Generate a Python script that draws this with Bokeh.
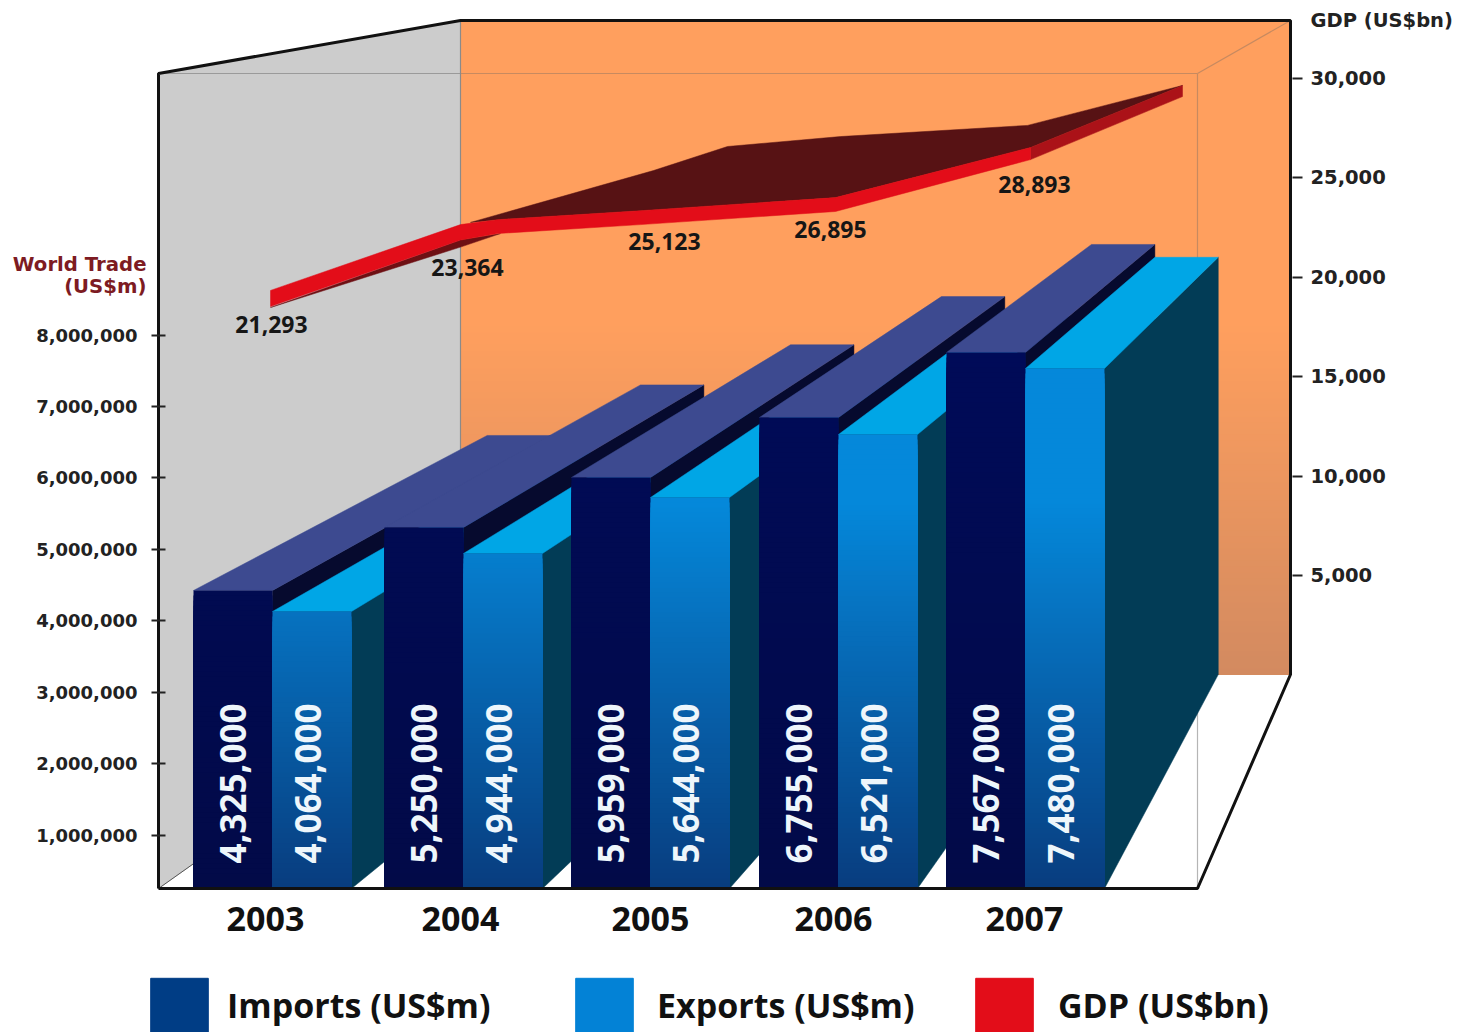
import math
from bokeh.plotting import figure
from bokeh.embed import file_html
from bokeh.layouts import column
from bokeh.resources import INLINE
from bokeh.core.properties import value
from bokeh.models import (Range1d, LinearAxis, FixedTicker, Legend, LegendItem,
                          ColumnDataSource, NumeralTickFormatter)

# ---------- data ----------
years = ["2003", "2004", "2005", "2006", "2007"]
imports_printed = [4325000, 5250000, 5959000, 6755000, 7567000]
exports_printed = [4064000, 4944000, 5644000, 6521000, 7480000]
# bar tops as they stand against the left axis in the picture
imports_drawn = [4424000, 5306000, 6006000, 6846000, 7756000]
exports_drawn = [4130000, 4942000, 5726000, 6608000, 7532000]
gdp_printed = [21293, 23364, 25123, 26895, 28893]
# GDP ribbon as read against the right axis
gdp_front_top = [19340, 22650, 22900, 23350, 24010, 26530]
gdp_front_bottom = [18530, 21870, 22200, 22650, 23310, 25920]
gdp_back = [22760, 25370, 26580, 27080, 27640, 29650]
gdp_end_bottom = 29090
trade_ticks = [1000000, 2000000, 3000000, 4000000, 5000000, 6000000, 7000000, 8000000]
gdp_ticks = [5000, 10000, 15000, 20000, 25000, 30000]
legend_labels = ["Imports (US$m)", "Exports (US$m)", "GDP (US$bn)"]

# ---------- layout (page pixels) ----------
W, H, H_MAIN = 1461, 1032, 950
LEFT, RIGHT, TOP, BOTTOM = 156, 1292, 0, 890
FLOOR = 888
def trade(py): return (906 - py) / 71.43 * 1e6
def gdp(py): return (674.4 - py) / 0.01988
VX, VY, S = 1680, trade(-195), 0.8025
def bx(x): return VX + S * (x - VX)
def by(v): return VY + S * (v - VY)

bar_w = 79
imp_left = [193, 384, 571, 759, 946]
year_x = [265, 460, 650, 833, 1024]

p = figure(width=W, height=H_MAIN, output_backend="svg", toolbar_location=None,
           x_range=Range1d(LEFT, RIGHT), y_range=Range1d(trade(BOTTOM), trade(TOP)),
           min_border_left=LEFT, min_border_right=W - RIGHT,
           min_border_top=0, min_border_bottom=H_MAIN - BOTTOM, outline_line_color=None,
           background_fill_color="white", border_fill_color="white", frame_align=False)
p.grid.visible = False
p.xaxis.visible = False
p.yaxis.visible = False
p.extra_y_ranges = {"gdp": Range1d(gdp(BOTTOM), gdp(TOP)), "px": Range1d(BOTTOM, TOP)}

# ---------- axes ----------
TICK_FONT = "DejaVu Sans"
la = LinearAxis(ticker=FixedTicker(ticks=trade_ticks), formatter=NumeralTickFormatter(format="0,0"),
                axis_line_color=None, major_tick_line_color="#222222", major_tick_line_width=2,
                major_tick_out=5, major_tick_in=9, minor_tick_line_color=None,
                major_label_standoff=14, major_label_text_font=TICK_FONT,
                major_label_text_font_style="bold", major_label_text_font_size="18px",
                major_label_text_color="#222222")
p.add_layout(la, "left")
# second left axis carries the axis title in its own colour
t1, t2 = round(trade(264)), round(trade(286))
lt = LinearAxis(ticker=FixedTicker(ticks=[t1, t2]), major_label_overrides={t1: "World Trade", t2: "(US$m)"},
                axis_line_color=None, major_tick_line_color=None, minor_tick_line_color=None,
                major_tick_out=0, major_tick_in=0,
                major_label_standoff=-113, major_label_text_font=TICK_FONT,
                major_label_text_font_style="bold", major_label_text_font_size="19.7px",
                major_label_text_color="#7d1b22")
p.add_layout(lt, "left")
g_title = round(gdp(20))
ra = LinearAxis(y_range_name="gdp", ticker=FixedTicker(ticks=gdp_ticks + [g_title], minor_ticks=gdp_ticks),
                formatter=NumeralTickFormatter(format="0,0"), major_label_overrides={g_title: "GDP (US$bn)"},
                axis_line_color=None, major_tick_line_color=None,
                minor_tick_line_color="#222222", minor_tick_line_width=2,
                minor_tick_out=10, minor_tick_in=0, major_tick_out=10, major_tick_in=0,
                major_label_standoff=8, major_label_text_font=TICK_FONT,
                major_label_text_font_style="bold", major_label_text_font_size="19.5px",
                major_label_text_color="#222222")
p.add_layout(ra, "right")
ba = LinearAxis(ticker=FixedTicker(ticks=year_x),
                major_label_overrides={x: y for x, y in zip(year_x, years)},
                axis_line_color=None, major_tick_line_color=None, minor_tick_line_color=None,
                major_label_standoff=10, major_label_text_font="Open Sans",
                major_label_text_font_style="bold", major_label_text_font_size="34px",
                major_label_text_color="#111111")
p.add_layout(ba, "below")

# ---------- room ----------
p.patch([460, 1290, 1197, 158], [674, 674, FLOOR, FLOOR], y_range_name="px", color="white")
p.patch([158, 460, 460, 158], [73, 20, 674, FLOOR], y_range_name="px", color="#cccccc")

def lerp_hex(a, b, t):
    t = max(0.0, min(1.0, t))
    ca = [int(a[i:i + 2], 16) for i in (1, 3, 5)]
    cb = [int(b[i:i + 2], 16) for i in (1, 3, 5)]
    return "#%02x%02x%02x" % tuple(round(u + (v - u) * t) for u, v in zip(ca, cb))

wall_t = list(range(20, 674, 6))
wall_c = [lerp_hex("#ff9f5e", "#d28a60", (t - 320) / 354) for t in wall_t]
p.quad(left=460, right=1290, top=wall_t, bottom=674, y_range_name="px",
       fill_color=wall_c, line_color=None)

p.line([158, 460], [73, 73], y_range_name="px", color="#9a9a9a", line_width=1.2)
p.line([460, 1197], [73, 73], y_range_name="px", color="#c78a60", line_width=1.2)
p.line([1197, 1290], [73, 20], y_range_name="px", color="#c78a60", line_width=1.2)
p.line([1197, 1197], [73, 674], y_range_name="px", color="#c78a60", line_width=1.2)
p.line([1197, 1197], [674, FLOOR], y_range_name="px", color="#b5b5b5", line_width=1.2)
p.line([460, 460], [20, 674], y_range_name="px", color="#8a8a8a", line_width=1.2)
p.line([158, 460], [FLOOR, 674], y_range_name="px", color="#555555", line_width=1)

# ---------- bars, painted left to right ----------
def draw_bar(left, top_value, top_col, side_col, grad_a, grad_b, g_start):
    right = left + bar_w
    base = trade(FLOOR)
    p.patch([right, bx(right), bx(right), right],
            [base, by(base), by(top_value), top_value], color=side_col, line_width=0.5)
    p.patch([left, right, bx(right), bx(left)],
            [top_value, top_value, by(top_value), by(top_value)], color=top_col, line_width=0.5)
    top_px = 906 - top_value / 1e6 * 71.43
    n = max(2, int((FLOOR - top_px) / 5))
    step = (FLOOR - top_px) / n
    ts = [top_px + i * step for i in range(n)]
    cols = [lerp_hex(grad_a, grad_b, (t - g_start) / (FLOOR - g_start)) for t in ts]
    p.quad(left=left, right=right, top=[trade(t) for t in ts], bottom=base,
           fill_color=cols, line_color=None)

for i in range(len(years)):
    draw_bar(imp_left[i], imports_drawn[i], "#3d4a90", "#060a2e", "#000b58", "#020a48", 350)
    draw_bar(imp_left[i] + bar_w, exports_drawn[i], "#00a6e6", "#023c56", "#0588da", "#083c7e", 500)

# ---------- GDP ribbon ----------
fx = [270, year_x[1], 497, 640, 835, 1030]
bkx = [470, 653, 727, 840, 1027, 1182]
p.patch(bkx + fx[::-1][:4], gdp_back + gdp_front_top[::-1][:4], y_range_name="gdp", color="#571214", line_width=0.5)
p.patch([1030, 1182, 1182, 1030], [gdp_front_top[-1], gdp_back[-1], gdp_end_bottom, gdp_front_bottom[-1]],
        y_range_name="gdp", color="#ab1218", line_width=0.5)
p.patch([270, 460, 500, 460], [gdp_front_bottom[0] - 50, gdp_front_bottom[1] - 350, gdp_front_bottom[2], gdp_front_bottom[1]],
        y_range_name="gdp", color="#6e1014", line_width=0.5)
p.patch(fx + fx[::-1], gdp_front_top + gdp_front_bottom[::-1], y_range_name="gdp", color="#e30d19", line_width=0.5)

# ---------- texts ----------
p.text(x=[271, 467, 664, 830, 1034], y=[324, 267, 241, 229, 184],
       text=[f"{v:,}" for v in gdp_printed], y_range_name="px",
       text_font=value("Open Sans"), text_font_style="bold", text_font_size="23px",
       text_align="center", text_baseline="middle", text_color="#161616")

imp_src = ColumnDataSource(dict(x=[l + 39 for l in imp_left], y=[863] * 5,
                                t=[f"{v:,}" for v in imports_printed]))
exp_src = ColumnDataSource(dict(x=[l + bar_w + 35 for l in imp_left], y=[863] * 5,
                                t=[f"{v:,}" for v in exports_printed]))
for src in (imp_src, exp_src):
    p.text(x="x", y="y", text="t", source=src, y_range_name="px", angle=math.pi / 2,
           text_font=value("Open Sans"), text_font_style="bold", text_font_size="35px",
           text_align="left", text_baseline="middle", text_color="#eef6fb")

# ---------- frame ----------
p.line([158, 158, 460, 1290, 1290, 1197, 158], [FLOOR, 73, 20, 20, 674, FLOOR, FLOOR],
       y_range_name="px", color="#111111", line_width=3)

# ---------- legend strip ----------
q = figure(width=W, height=H - H_MAIN, output_backend="svg", toolbar_location=None,
           x_range=Range1d(0, W), y_range=Range1d(0, H - H_MAIN),
           min_border_left=0, min_border_right=0, min_border_top=0, min_border_bottom=0,
           outline_line_color=None, border_fill_color="white", frame_align=False)
q.grid.visible = False
q.xaxis.visible = False
q.yaxis.visible = False
for label, col, px, gap in zip(legend_labels, ["#003d85", "#0382d6", "#e30d19"],
                               [143, 568, 968], [12, 17, 18]):
    r = q.quad(left=[-20], right=[-10], top=[-10], bottom=[-20], fill_color=col, line_color=col)
    q.add_layout(Legend(items=[LegendItem(label=label, renderers=[r], index=0)], location=(px, -7),
                        orientation="horizontal", border_line_color=None, background_fill_color=None,
                        margin=0, padding=0, glyph_width=72, glyph_height=68, label_standoff=gap,
                        label_text_font="Open Sans", label_text_font_style="bold",
                        label_text_font_size="34px", label_text_color="#111111", label_height=68),
                 "center")

layout = column(p, q, spacing=0)
open("out.html", "w").write(file_html(layout, INLINE))
